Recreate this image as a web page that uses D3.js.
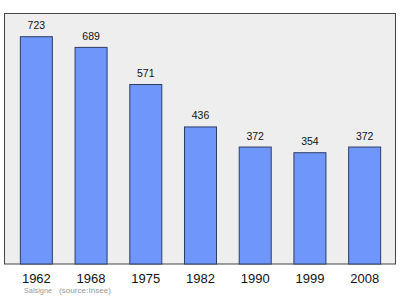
<!DOCTYPE html>
<html>
<head>
<meta charset="utf-8">
<script src="https://cdn.jsdelivr.net/npm/d3@7"></script>
<style>
  body { margin: 0; background: #fff; }
  svg { display: block; font-family: "Liberation Sans", Arial, sans-serif; }
</style>
</head>
<body>
<svg id="chart" width="400" height="299"></svg>
<script>
// population by census year
var years = ['1962', '1968', '1975', '1982', '1990', '1999', '2008'];
var population = [723, 689, 571, 436, 372, 354, 372];
var place = 'Salsigne';
var source = '(source:Insee)';

(function () {
    var svg = d3.select('#chart');

    var frame = { left: 4.5, top: 13.5, right: 395.5, bottom: 264 };

    var x = d3.scaleBand()
        .domain(years)
        .range([9, 392]);

    var y = d3.scaleLinear()
        .domain([0, 800])
        .range([frame.bottom, 12.5]);

    var barW = x.bandwidth() * 0.585;

    // plot area
    svg.append('rect')
        .attr('x', frame.left)
        .attr('y', frame.top)
        .attr('width', frame.right - frame.left)
        .attr('height', frame.bottom - frame.top)
        .attr('fill', '#eeeeee')
        .attr('stroke', '#444')
        .attr('stroke-width', 1);

    var data = years.map(function (yr, i) {
        return { year: yr, value: population[i] };
    });

    svg.selectAll('rect.bar')
        .data(data).enter()
        .append('rect')
        .attr('class', 'bar')
        .attr('x', function (d) { return x(d.year) + (x.bandwidth() - barW) / 2; })
        .attr('y', function (d) { return y(d.value); })
        .attr('width', barW)
        .attr('height', function (d) { return frame.bottom - y(d.value); })
        .attr('fill', '#6f96fb')
        .attr('stroke', '#2d3d66')
        .attr('stroke-width', 1);

    svg.selectAll('text.val')
        .data(data).enter()
        .append('text')
        .attr('class', 'val')
        .attr('x', function (d) { return x(d.year) + x.bandwidth() / 2; })
        .attr('y', function (d) { return y(d.value) - 7.5; })
        .attr('text-anchor', 'middle')
        .attr('font-size', 10.5)
        .attr('fill', '#111')
        .text(function (d) { return d.value; });

    // year axis
    var axis = d3.axisBottom(x).tickSize(0).tickPadding(0);
    var g = svg.append('g')
        .attr('transform', 'translate(0,' + frame.bottom + ')')
        .call(axis);
    g.select('.domain').remove();
    g.selectAll('text')
        .attr('dy', 0)
        .attr('y', 19.3)
        .attr('font-size', 13)
        .attr('font-family', '"Liberation Sans", Arial, sans-serif')
        .attr('fill', '#111');

    svg.append('text')
        .attr('x', 24)
        .attr('y', 293)
        .attr('font-size', 8)
        .attr('textLength', 28)
        .attr('lengthAdjust', 'spacingAndGlyphs')
        .attr('fill', '#999')
        .text(place);

    svg.append('text')
        .attr('x', 59)
        .attr('y', 293)
        .attr('font-size', 8)
        .attr('textLength', 52)
        .attr('lengthAdjust', 'spacingAndGlyphs')
        .attr('fill', '#999')
        .text(source);
})();
</script>
</body>
</html>
